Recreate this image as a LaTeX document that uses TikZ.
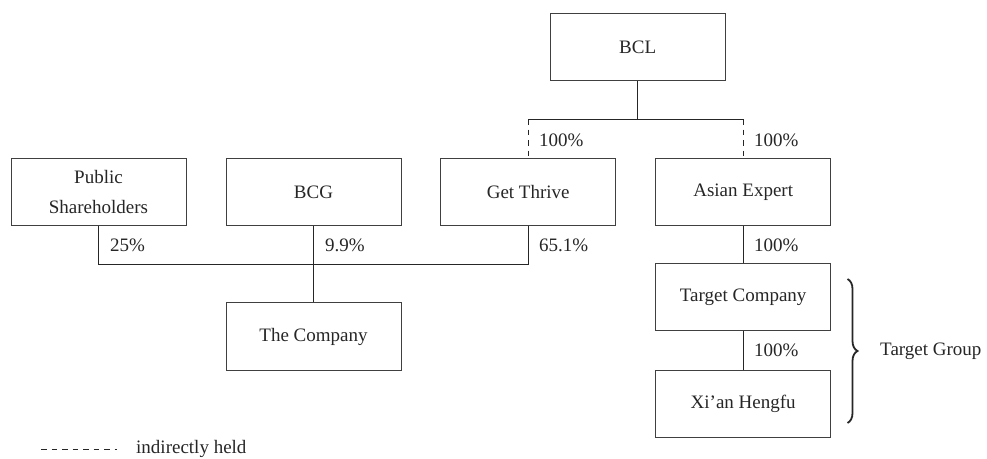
\documentclass[tikz,border=0pt]{standalone}
\usepackage{fontspec}
\setmainfont{Liberation Serif}
\usetikzlibrary{decorations.pathreplacing}
\begin{document}
\begin{tikzpicture}[x=1pt,y=-1pt,
  font=\fontsize{19}{30}\selectfont,
  box/.style={draw=black!75,line width=0.9pt,minimum width=175pt,minimum height=67.5pt,inner sep=0pt,align=center,text=black!85},
  lnk/.style={draw=black!85,line width=0.9pt},
  ind/.style={lnk,dash pattern=on 5.5pt off 5pt},
  pct/.style={anchor=west,inner sep=0pt,text=black!85}]
\useasboundingbox (0,0) rectangle (987,458);
\node[box] (bcl) at (637.7,47) {BCL};
\node[box] (pub) at (98.5,192) {Public\\Shareholders};
\node[box] (bcg) at (313.5,192) {BCG};
\node[box] (get) at (528.2,192) {Get Thrive};
\node[box] (asian) at (743.2,192) {Asian Expert};
\node[box] (comp) at (313.5,336.5) {The Company};
\node[box] (tc) at (743.2,297) {Target Company};
\node[box] (xi) at (743.2,403.7) {Xi’an Hengfu};
\coordinate (j1) at (637.7,119);
\coordinate (j2) at (313.5,264.3);
% BCL branch
\draw[lnk] (bcl.south) -- (bcl.south |- j1);
\draw[lnk] (get.north |- j1) -- (asian.north |- j1);
\draw[ind] (get.north |- j1) -- (get.north);
\draw[ind] (asian.north |- j1) -- (asian.north);
\node[pct] (l1) at (539,140) {100\%};
\node[pct] (l2) at (754,140) {100\%};
% The Company shareholders
\draw[lnk] (pub.south) -- (pub.south |- j2) -- (get.south |- j2) -- (get.south);
\draw[lnk] (bcg.south) -- (comp.north);
\node[pct] (l3) at (110,245) {25\%};
\node[pct] (l4) at (325,245) {9.9\%};
\node[pct] (l5) at (539,245) {65.1\%};
% Target chain
\draw[lnk] (asian.south) -- (tc.north);
\draw[lnk] (tc.south) -- (xi.north);
\node[pct] (l6) at (754,245) {100\%};
\node[pct] (l7) at (754,350.7) {100\%};
% brace
\coordinate (bt) at (847.5,279);
\coordinate (bb) at (847.5,423);
\draw[line width=1.8pt,black!85,decorate,decoration={brace,amplitude=10pt}] (bt) -- (bb);
\node[pct] (tg) at (880,351) {Target Group};
% legend
\coordinate (d1) at (41,449);
\coordinate (d2) at (117,449);
\draw[ind,line width=0.8pt] (d1) -- (d2);
\node[anchor=base west,inner sep=0pt,text=black!85] (leg) at (136,453) {indirectly held};
\end{tikzpicture}
\end{document}
